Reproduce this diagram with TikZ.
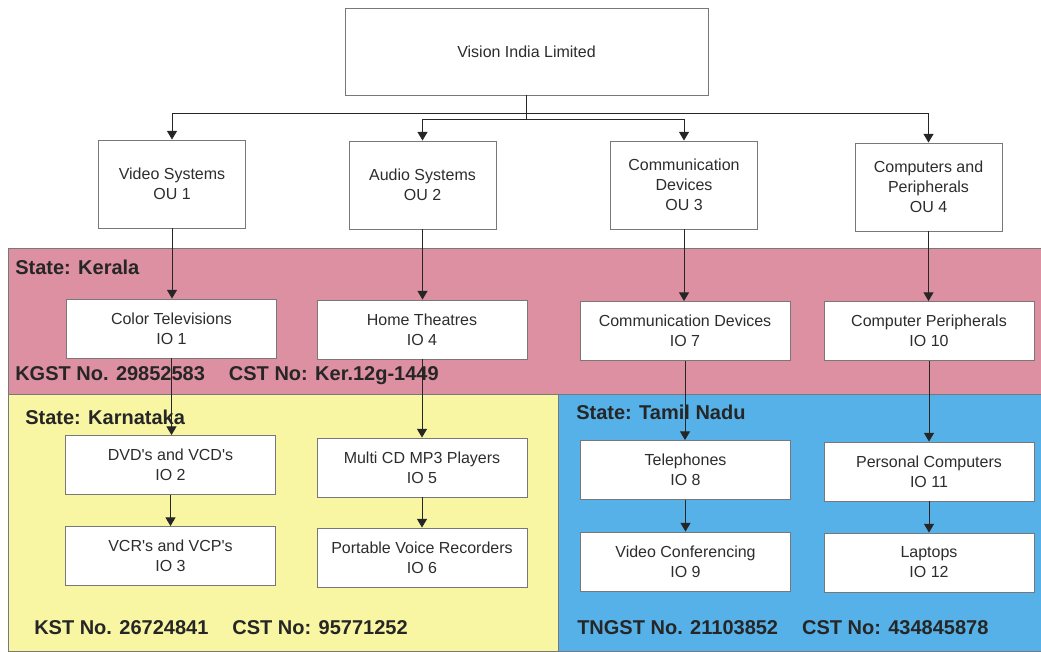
\documentclass[tikz,border=0pt]{standalone}
\usepackage{fontspec}
\setmainfont{Liberation Sans}
\usetikzlibrary{arrows.meta}
\definecolor{kerala}{RGB}{220,144,161}
\definecolor{karnataka}{RGB}{248,245,163}
\definecolor{tamil}{RGB}{86,177,232}
\definecolor{boxline}{RGB}{120,120,120}
\definecolor{txt}{RGB}{45,45,45}
\begin{document}
\begin{tikzpicture}[x=0.75pt,y=-0.75pt,
  box/.style={draw=boxline, fill=white, line width=0.7pt, align=center,
    font=\fontsize{12}{15}\selectfont, text=txt, inner sep=0pt},
  iobox/.style={box, minimum width=157.5pt, minimum height=44.25pt},
  oubox/.style={box, minimum width=110.25pt, minimum height=66pt},
  conn/.style={draw=black!85, line width=0.7pt, -{Triangle[length=6.5pt,width=7.5pt]}},
  region/.style={draw=boxline, line width=0.6pt},
  state/.style={font=\bfseries\fontsize{15}{18}\selectfont, text=black!85, anchor=west, inner sep=0pt}]
\useasboundingbox (0,0) rectangle (1041,652);
% regions
\fill[white] (0,0) rectangle (1041,652);
\path[region, fill=kerala] (8,248) rectangle (1041,394);
\path[region, fill=karnataka] (8,394) rectangle (558,651);
\path[region, fill=tamil] (558,394) rectangle (1041,651);
% region labels
\node[state] (kerala) at (15,267) {State: Kerala};
\node[state] (kgst) at (15,376) {KGST No. 29852583\hspace{1.2em}CST No: Ker.12g-1449};
\node[state] (karn) at (25,417) {State: Karnataka};
\node[state] (kst) at (34,628) {KST No. 26724841\hspace{1.2em}CST No: 95771252};
\node[state] (tn) at (576,412) {State: Tamil Nadu};
\node[state] (tngst) at (577,628) {TNGST No. 21103852\hspace{1.2em}CST No: 434845878};
% top
\node[box, minimum width=272.25pt, minimum height=65.25pt] (top) at (526.5,51.5) {Vision India Limited};
% OUs
\node[oubox] (ou1) at (172,184) {Video Systems\\OU 1};
\node[oubox] (ou2) at (422.5,185) {Audio Systems\\OU 2};
\node[oubox] (ou3) at (684,185) {Communication\\Devices\\OU 3};
\node[oubox] (ou4) at (928.5,187) {Computers and\\Peripherals\\OU 4};
% IOs
\node[iobox] (io1) at (171.5,328.5) {Color Televisions\\IO 1};
\node[iobox] (io4) at (422,329.5) {Home Theatres\\IO 4};
\node[iobox] (io7) at (685,331) {Communication Devices\\IO 7};
\node[iobox] (io10) at (929,331) {Computer Peripherals\\IO 10};
\node[iobox] (io2) at (170.5,465) {DVD\textquotesingle s and VCD\textquotesingle s\\IO 2};
\node[iobox] (io3) at (170.5,556) {VCR\textquotesingle s and VCP\textquotesingle s\\IO 3};
\node[iobox] (io5) at (422,467.5) {Multi CD MP3 Players\\IO 5};
\node[iobox] (io6) at (422,557.5) {Portable Voice Recorders\\IO 6};
\node[iobox] (io8) at (685.5,470) {Telephones\\IO 8};
\node[iobox] (io9) at (685.5,561.5) {Video Conferencing\\IO 9};
\node[iobox] (io11) at (929,471.5) {Personal Computers\\IO 11};
\node[iobox] (io12) at (929,562.5) {Laptops\\IO 12};
% top connectors
\coordinate (j1) at (526.5,113);
\coordinate (j2) at (526.5,119);
\draw[draw=black!85, line width=0.7pt] (top.south) -- (j2);
\draw[conn] (j1) -| (ou1.north);
\draw[conn] (j1) -| (ou4.north);
\draw[conn] (j2) -| (ou2.north);
\draw[conn] (j2) -| (ou3.north);
% vertical chains
\foreach \a/\b in {ou1/io1, io1/io2, io2/io3, ou2/io4, io4/io5, io5/io6,
                   ou3/io7, io7/io8, io8/io9, ou4/io10, io10/io11, io11/io12}
  \draw[conn] (\a.south) -- (\a.south |- \b.north);
\end{tikzpicture}
\end{document}
